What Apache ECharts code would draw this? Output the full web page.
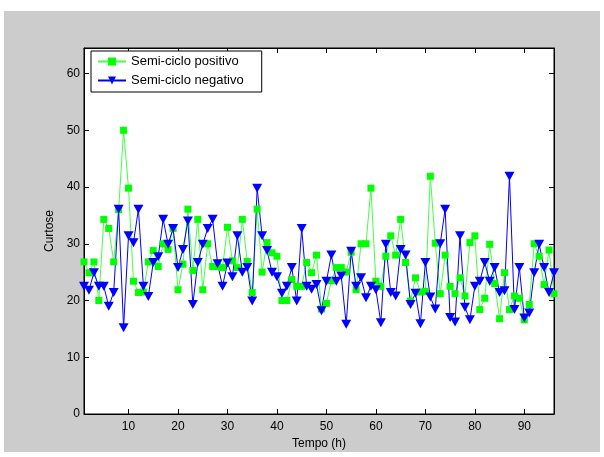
<!DOCTYPE html>
<html>
<head>
<meta charset="utf-8">
<script src="https://cdn.jsdelivr.net/npm/echarts@6/dist/echarts.min.js"></script>
<style>
  html, body { margin: 0; padding: 0; background: #fff; }
  #fundo { position: absolute; left: 4px; top: 11px; width: 596px; height: 441px; background: #cccccc; }
  #grafico { position: absolute; left: 0; top: 0; width: 604px; height: 457px; }
</style>
</head>
<body>
<div id="fundo"></div>
<div id="grafico"></div>
<script>
// tempo (h)
var horas = [1, 2, 3, 4, 5, 6, 7, 8, 9, 10, 11, 12, 13, 14, 15, 16, 17, 18, 19, 20,
    21, 22, 23, 24, 25, 26, 27, 28, 29, 30, 31, 32, 33, 34, 35, 36, 37, 38, 39, 40,
    41, 42, 43, 44, 45, 46, 47, 48, 49, 50, 51, 52, 53, 54, 55, 56, 57, 58, 59, 60,
    61, 62, 63, 64, 65, 66, 67, 68, 69, 70, 71, 72, 73, 74, 75, 76, 77, 78, 79, 80,
    81, 82, 83, 84, 85, 86, 87, 88, 89, 90, 91, 92, 93, 94, 95, 96];

// curtose - semi-ciclo positivo
var positivo = [26.8, 24.9, 26.8, 20.0, 34.3, 32.7, 26.8, 36.0, 50.0, 39.8,
    23.4, 21.4, 21.5, 26.8, 28.8, 26.0, 30.0, 29.0, 32.7, 21.9,
    26.4, 36.1, 25.3, 34.3, 21.9, 30.0, 26.0, 26.0, 25.8, 32.9,
    27.0, 25.8, 34.3, 26.9, 21.4, 36.1, 25.0, 30.2, 28.4, 27.8,
    20.0, 20.0, 23.7, 22.5, 22.5, 26.7, 24.9, 28.0, 18.5, 19.5,
    23.5, 25.8, 25.8, 25.0, 28.5, 21.9, 30.0, 30.0, 39.8, 23.4,
    22.5, 27.8, 31.4, 28.0, 34.3, 26.7, 19.9, 24.0, 21.5, 21.6,
    41.9, 30.1, 21.2, 28.0, 22.5, 21.2, 24.0, 20.8, 30.2, 31.4,
    18.4, 20.4, 29.9, 23.0, 16.8, 24.9, 18.4, 20.8, 20.4, 16.6,
    19.3, 30.0, 27.8, 22.8, 28.9, 21.2];

// curtose - semi-ciclo negativo
var negativo = [22.5, 21.8, 24.9, 22.5, 22.5, 19.0, 21.4, 36.1, 15.2, 31.4,
    30.2, 36.1, 22.5, 20.7, 26.7, 27.7, 34.3, 29.9, 32.7, 25.8,
    29.0, 34.0, 19.3, 26.7, 29.9, 32.7, 34.3, 26.5, 22.5, 26.6,
    24.2, 31.4, 25.0, 25.8, 19.9, 39.8, 31.4, 28.8, 25.0, 24.2,
    21.3, 22.5, 25.8, 19.9, 32.7, 22.5, 22.0, 22.8, 18.2, 23.4,
    28.0, 23.4, 24.3, 15.8, 28.7, 22.5, 24.0, 20.5, 22.5, 21.9,
    16.1, 29.9, 21.4, 20.8, 29.0, 28.0, 19.3, 21.3, 15.9, 26.7,
    20.6, 18.5, 30.0, 36.1, 17.0, 16.2, 31.4, 18.8, 16.6, 22.5,
    23.4, 26.7, 23.4, 25.8, 21.4, 21.7, 41.9, 18.4, 25.8, 16.9,
    17.8, 24.9, 29.9, 25.8, 21.4, 24.9];

var ticksX = [10, 20, 30, 40, 50, 60, 70, 80, 90];
var ticksY = [0, 10, 20, 30, 40, 50, 60];

var fonte = 'Liberation Sans, Arial, sans-serif';

function pares(ys) {
    return horas.map(function (h, i) { return [h, ys[i]]; });
}

var myChart = echarts.init(document.getElementById('grafico'), null, { renderer: 'canvas' });

var eixoX = function (pos, mostraLabel) {
    return {
        type: 'value',
        position: pos,
        min: 1,
        max: 96,
        splitLine: { show: false },
        axisLine: { show: true, onZero: false, lineStyle: { color: '#000', width: 1 } },
        axisTick: { show: true, inside: true, length: 5, customValues: ticksX, lineStyle: { color: '#000' } },
        axisLabel: { show: mostraLabel, customValues: ticksX, color: '#000', fontSize: 12, fontFamily: fonte, margin: 7 }
    };
};
var eixoY = function (pos, mostraLabel) {
    return {
        type: 'value',
        position: pos,
        min: 0,
        max: 64.5,
        splitLine: { show: false },
        axisLine: { show: true, onZero: false, lineStyle: { color: '#000', width: 1 } },
        axisTick: { show: true, inside: true, length: 5, customValues: ticksY, lineStyle: { color: '#000' } },
        axisLabel: { show: mostraLabel, customValues: ticksY, color: '#000', fontSize: 12, fontFamily: fonte, margin: 4 }
    };
};

var xBase = eixoX('bottom', true);
xBase.name = 'Tempo (h)';
xBase.nameLocation = 'middle';
xBase.nameGap = 22;
xBase.nameTextStyle = { color: '#000', fontSize: 12, fontFamily: fonte };

var yBase = eixoY('left', true);
yBase.name = 'Curtose';
yBase.nameLocation = 'middle';
yBase.nameGap = 24;
yBase.nameTextStyle = { color: '#000', fontSize: 12, fontFamily: fonte };

option = {
    animation: false,
    backgroundColor: 'transparent',
    grid: {
        left: 84,
        right: 50,
        top: 48,
        bottom: 43,
        show: true,
        backgroundColor: '#fff',
        borderColor: '#000',
        borderWidth: 1
    },
    legend: {
        orient: 'vertical',
        left: 91,
        top: 51,
        backgroundColor: '#fff',
        borderColor: '#000',
        borderWidth: 1,
        borderRadius: 0,
        padding: [4, 18, 5, 6],
        itemGap: 6,
        itemWidth: 28,
        itemHeight: 10,
        textStyle: { color: '#000', fontSize: 13, fontFamily: fonte },
        data: ['Semi-ciclo positivo', 'Semi-ciclo negativo']
    },
    xAxis: [xBase, eixoX('top', false)],
    yAxis: [yBase, eixoY('right', false)],
    series: [
        {
            name: 'Semi-ciclo positivo',
            type: 'line',
            data: pares(positivo),
            symbol: 'rect',
            symbolSize: 7,
            showAllSymbol: true,
            lineStyle: { color: '#44ff44', width: 1 },
            itemStyle: { color: '#00ff00', borderWidth: 0 }
        },
        {
            name: 'Semi-ciclo negativo',
            type: 'line',
            data: pares(negativo),
            symbol: 'triangle',
            symbolRotate: 180,
            symbolSize: [10, 9],
            showAllSymbol: true,
            lineStyle: { color: '#0000ff', width: 1 },
            itemStyle: { color: '#0000ff', borderWidth: 0 }
        }
    ]
};

myChart.setOption(option);
</script>
</body>
</html>
